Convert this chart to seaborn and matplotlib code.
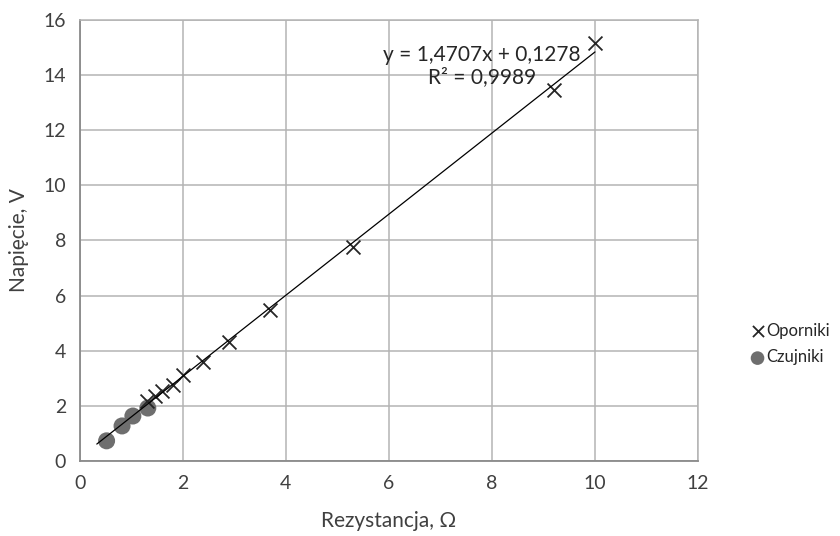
import matplotlib
matplotlib.use("Agg")
import matplotlib.pyplot as plt
import seaborn as sns
import pandas as pd
import numpy as np

# Oporniki (resistors)
opor_r = [1.3, 1.45, 1.6, 1.8, 2.0, 2.4, 2.9, 3.7, 5.3, 9.2, 10.0]
opor_u = [2.18, 2.36, 2.54, 2.76, 3.12, 3.59, 4.32, 5.46, 7.76, 13.45, 15.15]
# Czujniki (sensors)
czuj_r = [0.52, 0.82, 1.03, 1.32]
czuj_u = [0.73, 1.27, 1.63, 1.92]

trend_a = 1.4707
trend_b = 0.1278
trend_x = [0.33, 10.0]
eq_text = "y = 1,4707x + 0,1278\nR² = 0,9989"

x_ticks = [0, 2, 4, 6, 8, 10, 12]
y_ticks = [0, 2, 4, 6, 8, 10, 12, 14, 16]

df = pd.concat([
    pd.DataFrame({"R": opor_r, "U": opor_u, "seria": "Oporniki"}),
    pd.DataFrame({"R": czuj_r, "U": czuj_u, "seria": "Czujniki"}),
])

sns.set_style("white")
plt.rcParams["font.family"] = ["Lato", "DejaVu Sans"]

fig = plt.figure(figsize=(8.4, 5.36), dpi=100)
ax = fig.add_axes([0.095, 0.14, 0.736, 0.823])

sns.scatterplot(data=df[df.seria == "Czujniki"], x="R", y="U", ax=ax,
                marker="o", s=150, color="#6e6e6e", edgecolor="none",
                label="Czujniki", zorder=3)
sns.scatterplot(data=df[df.seria == "Oporniki"], x="R", y="U", ax=ax,
                marker="x", s=100, color="#262626", linewidth=1.3,
                label="Oporniki", zorder=4)

tx = np.array(trend_x)
ax.plot(tx, trend_a * tx + trend_b, color="black", lw=0.9, zorder=5)
ax.text(7.8, 14.33, eq_text, ha="center", va="center", fontsize=15,
        color="#262626", linespacing=1.1)

ax.set_xlim(0, 12)
ax.set_ylim(0, 16)
ax.set_xticks(x_ticks)
ax.set_yticks(y_ticks)
ax.grid(True, color="#b4b4b4", lw=1.1)
ax.set_axisbelow(True)
for side in ["top", "right"]:
    ax.spines[side].set_color("#b4b4b4")
    ax.spines[side].set_linewidth(1.1)
for side in ["left", "bottom"]:
    ax.spines[side].set_color("#8a8a8a")
    ax.spines[side].set_linewidth(1.3)
ax.tick_params(labelsize=14, colors="#404040", length=0, pad=10)
ax.set_xlabel("Rezystancja, Ω", fontsize=15, color="#404040", labelpad=14)
ax.set_ylabel("Napięcie, V", fontsize=15, color="#404040", labelpad=10)

h, l = ax.get_legend_handles_labels()
order = [l.index("Oporniki"), l.index("Czujniki")]
ax.legend([h[i] for i in order], [l[i] for i in order],
          loc="center left", bbox_to_anchor=(1.045, 0.265), frameon=False,
          fontsize=12, handletextpad=-0.5, labelspacing=0.65,
          markerscale=0.8, labelcolor="#262626")

fig.savefig("out.png", dpi=100)
